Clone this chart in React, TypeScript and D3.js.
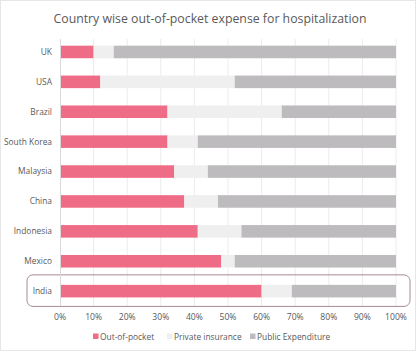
import React, { useEffect, useRef } from 'react';
import * as d3 from 'd3';

const countries = ['UK', 'USA', 'Brazil', 'South Korea', 'Malaysia', 'China', 'Indonesia', 'Mexico', 'India'];
const outOfPocket = [10, 12, 32, 32, 34, 37, 41, 48, 60];
const privateIns = [6, 40, 34, 9, 10, 10, 13, 4, 9];
const publicExp = [84, 48, 34, 59, 56, 53, 46, 48, 31];
const seriesNames = ['Out-of-pocket', 'Private insurance', 'Public Expenditure'];
const seriesColors = ['#ef6c86', '#efefef', '#bdbbbd'];
const xTicks = [0, 10, 20, 30, 40, 50, 60, 70, 80, 90, 100];

const W = 416, H = 351;
const FONT = '"Open Sans", "Noto Sans", sans-serif';

export default function App() {
  const ref = useRef<SVGSVGElement>(null);

  useEffect(() => {
    const svg = d3.select(ref.current);
    svg.selectAll('*').remove();

    svg.append('rect').attr('x', 0.5).attr('y', 0.5).attr('width', W - 1).attr('height', H - 1)
      .attr('fill', '#fff').attr('stroke', '#e6e6e6');

    svg.append('text').attr('x', 210).attr('y', 23).attr('text-anchor', 'middle')
      .attr('font-family', FONT).attr('font-size', 12.3).attr('fill', '#595959')
      .text('Country wise out-of-pocket expense for hospitalization');

    const x = d3.scaleLinear().domain([0, 100]).range([60, 396]);
    const y = d3.scaleBand<string>().domain(countries).range([39.4, 303.7])
      .paddingInner(0.58).paddingOuter(0.21);

    // grid
    svg.append('g').selectAll('line').data(xTicks.slice(1)).enter().append('line')
      .attr('x1', d => x(d)).attr('x2', d => x(d))
      .attr('y1', 39).attr('y2', 306)
      .attr('stroke', '#ececec').attr('stroke-width', 1);

    // highlight box around India
    const iy = y('India')!;
    svg.append('rect').attr('x', 27).attr('y', iy - 10).attr('width', 383).attr('height', y.bandwidth() + 19)
      .attr('rx', 6).attr('fill', 'none').attr('stroke', '#a88a8f').attr('stroke-width', 1);

    const table = countries.map((c, i) => ({ c, v: [outOfPocket[i], privateIns[i], publicExp[i]] }));
    const rows = svg.append('g').selectAll('g').data(table).enter().append('g');
    rows.selectAll('rect')
      .data(d => {
        let acc = 0;
        return d.v.map((v, k) => {
          const s = { c: d.c, x0: acc, x1: acc + v, k };
          acc += v;
          return s;
        });
      })
      .enter().append('rect')
      .attr('x', d => x(d.x0))
      .attr('y', d => y(d.c)!)
      .attr('width', d => x(d.x1) - x(d.x0))
      .attr('height', y.bandwidth())
      .attr('fill', d => seriesColors[d.k]);

    // y axis
    svg.append('line').attr('x1', 60.5).attr('x2', 60.5).attr('y1', 39).attr('y2', 306)
      .attr('stroke', '#d9d9d9');
    svg.append('g').selectAll('text').data(countries).enter().append('text')
      .attr('x', 52).attr('y', d => y(d)! + y.bandwidth() / 2).attr('dy', '0.35em')
      .attr('text-anchor', 'end').attr('font-family', FONT).attr('font-size', 8.4)
      .attr('fill', '#595959').text(d => d);

    // x tick labels
    svg.append('g').selectAll('text').data(xTicks).enter().append('text')
      .attr('x', d => x(d)).attr('y', 320).attr('text-anchor', 'middle')
      .attr('font-family', FONT).attr('font-size', 8.6).attr('fill', '#595959')
      .text(d => d + '%');

    // legend
    const legX = [93, 167, 250];
    const lg = svg.append('g').selectAll('g').data(seriesNames).enter().append('g')
      .attr('transform', (d, i) => `translate(${legX[i]},337)`);
    lg.append('rect').attr('x', 0).attr('y', -3.5).attr('width', 5.5).attr('height', 5.5)
      .attr('fill', (d, i) => seriesColors[i]);
    lg.append('text').attr('x', 7).attr('y', 0).attr('dy', '0.35em')
      .attr('font-family', FONT).attr('font-size', 8.4).attr('fill', '#595959')
      .text(d => d);
  }, []);

  return <svg ref={ref} width={W} height={H} style={{ position: 'absolute', left: 0, top: 0 }} />;
}
